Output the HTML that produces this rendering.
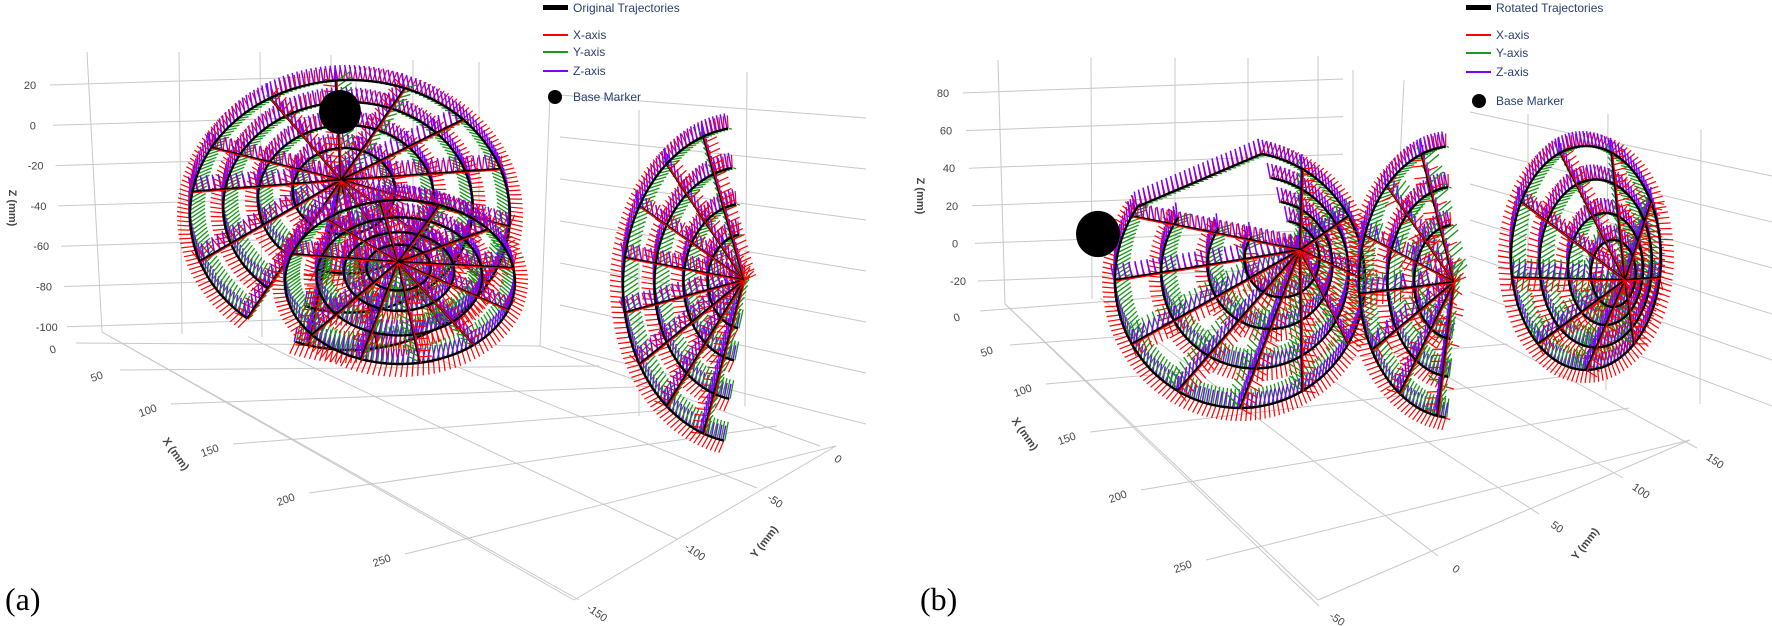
<!DOCTYPE html>
<html><head><meta charset="utf-8">
<style>
html,body{margin:0;padding:0;background:#fff;}
svg{display:block;font-family:"Liberation Sans",sans-serif;}
.tk{font-size:11px;fill:#444;}
.lg{font-size:12px;fill:#2a3f6f;}
</style></head>
<body>
<svg id="chart" width="1772" height="626" viewBox="0 0 1772 626" xmlns="http://www.w3.org/2000/svg">
  <g id="grid"></g>
  <g id="paths"></g>
  <g id="labels"></g>

  <g>
    <rect x="543" y="5" width="25" height="5" fill="#000"/>
    <text class="lg" x="573" y="12">Original Trajectories</text>
    <line x1="543" y1="35" x2="568" y2="35" stroke="#f00" stroke-width="2"/>
    <text class="lg" x="573" y="39">X-axis</text>
    <line x1="543" y1="52" x2="568" y2="52" stroke="#1a9a1a" stroke-width="2"/>
    <text class="lg" x="573" y="56">Y-axis</text>
    <line x1="543" y1="71" x2="568" y2="71" stroke="#7f00ff" stroke-width="2"/>
    <text class="lg" x="573" y="75">Z-axis</text>
    <ellipse cx="555" cy="97" rx="7" ry="7" fill="#000"/>
    <text class="lg" x="573" y="101">Base Marker</text>
  </g>
  <g>
    <rect x="1466" y="5" width="25" height="5" fill="#000"/>
    <text class="lg" x="1496" y="12">Rotated Trajectories</text>
    <line x1="1466" y1="35" x2="1491" y2="35" stroke="#f00" stroke-width="2"/>
    <text class="lg" x="1496" y="39">X-axis</text>
    <line x1="1466" y1="53" x2="1491" y2="53" stroke="#1a9a1a" stroke-width="2"/>
    <text class="lg" x="1496" y="57">Y-axis</text>
    <line x1="1466" y1="72" x2="1491" y2="72" stroke="#7f00ff" stroke-width="2"/>
    <text class="lg" x="1496" y="76">Z-axis</text>
    <ellipse cx="1479" cy="101" rx="7" ry="7" fill="#000"/>
    <text class="lg" x="1496" y="105">Base Marker</text>
  </g>

  <text x="5" y="610" font-family="Liberation Serif, serif" font-size="32" fill="#000">(a)</text>
  <text x="920" y="610" font-family="Liberation Serif, serif" font-size="32" fill="#000">(b)</text>
</svg>
<script>
var SVGNS='http://www.w3.org/2000/svg';
// ---------- data ----------
var zTicksA=['20','0','-20','-40','-60','-80','-100'];
var xTicksA=['0','50','100','150','200','250'];
var yTicksA=['0','-50','-100','-150'];
var zTicksB=['80','60','40','20','0','-20'];
var xTicksB=['0','50','100','150','200','250'];
var yTicksB=['150','100','50','0','-50'];
var fanA1Spokes=[-150,-120,-95,-70,-45,-20,5,30,55,80,105,130,160,190];
var fanA1Rings=[1.0,0.78,0.55,0.32];
var fanA2Spokes=[-160,-130,-100,-70,-40,-10,20,50,80,110,140];
var fanA2Rings=[1.0,0.72,0.48,0.28];
var fanA3Spokes=[110,130,150,170,190,210,230,250];
var fanA3Rings=[1.0,0.74,0.5,0.3];
var fanB1Spokes=[-60,-30,0,30,60,90,120,150,180,210];
var fanB1Rings=[1.0,0.75,0.5,0.3];
var fanB2Spokes=[100,125,150,175,200,225,250];
var fanB2Rings=[1.0,0.7,0.42];
var fanB3Spokes=[-150,-110,-70,-30,10,50,90,130,170,210];
var fanB3Rings=[1.0,0.75,0.5,0.3];

// ---------- helpers ----------
var gGrid=document.getElementById('grid');
var gPaths=document.getElementById('paths');
var gLab=document.getElementById('labels');
function mkLine(p,x1,y1,x2,y2,c,w){var l=document.createElementNS(SVGNS,'line');l.setAttribute('x1',(+x1).toFixed(1));l.setAttribute('y1',(+y1).toFixed(1));l.setAttribute('x2',(+x2).toFixed(1));l.setAttribute('y2',(+y2).toFixed(1));l.setAttribute('stroke',c);l.setAttribute('stroke-width',w);p.appendChild(l);return l;}
function mkText(s,x,y,rot,cls,size,weight){var t=document.createElementNS(SVGNS,'text');t.textContent=s;t.setAttribute('x',x);t.setAttribute('y',y);t.setAttribute('class',cls||'tk');t.setAttribute('text-anchor','middle');if(size)t.setAttribute('font-size',size);if(weight)t.setAttribute('font-weight',weight);if(rot)t.setAttribute('transform','rotate('+rot+' '+x+' '+y+')');gLab.appendChild(t);return t;}
var GC='#c8c8c8';
function mix(a,b,t){return [a[0]+(b[0]-a[0])*t,a[1]+(b[1]-a[1])*t];}

function drawFrame(cfg){
  var i,s,y,l,r,t,p,e;
  for(i=0;i<cfg.zTicks.length;i++){
    s=cfg.zTicks[i];y=cfg.zTop+i*cfg.zStep;
    l=mkLine(gGrid,cfg.zx0+i*cfg.zDx,y,cfg.zx1,y-cfg.zRise,GC,1);
    
    
    r=mkLine(gGrid,cfg.rx0,cfg.ry0+i*cfg.ryStep0,cfg.rx1,cfg.ry1+i*cfg.ryStep1,GC,1);
    
    
    t=mkText(s,cfg.zLabX+i*cfg.zDx,y+4);
    
    
  }
  for(i=0;i<cfg.verts.length;i++){
    var v=cfg.verts[i];
    l=mkLine(gGrid,v[0],v[1],v[2],v[3],GC,1);
    
    
  }
  var nX=cfg.xTicks.length, nY=cfg.yTicks.length;
  for(i=0;i<nX;i++){
    p=cfg.xLab[i];e=mix(cfg.rightA,cfg.rightB,i/(nX-1));
    l=mkLine(gGrid,p[0]+22,p[1]-6,e[0],e[1],GC,1);
    
    
    t=mkText(cfg.xTicks[i],p[0],p[1]+4,-20);
    
    
  }
  for(i=0;i<nY;i++){
    p=cfg.yLab[i];e=mix(cfg.backA,cfg.backB,i/(nY-1));
    l=mkLine(gGrid,p[0]-16,p[1]-12,e[0],e[1],GC,1);
    
    
    t=mkText(cfg.yTicks[i],p[0],p[1]+4,35);
    
    
  }
  var ea=mkLine(gGrid,cfg.backB[0],cfg.backB[1],cfg.xEnd[0],cfg.xEnd[1],GC,1);
  
  
  var eb=mkLine(gGrid,cfg.xEnd[0],cfg.xEnd[1],cfg.rightB[0],cfg.rightB[1],GC,1);
  
  
  var zt=mkText('Z (mm)',cfg.zTitle[0],cfg.zTitle[1],90,'tk',12,'bold');
  
  
  var xt=mkText('X (mm)',cfg.xTitle[0],cfg.xTitle[1],55,'tk',12,'bold');
  
  
  var yt=mkText('Y (mm)',cfg.yTitle[0],cfg.yTitle[1],-52,'tk',12,'bold');
  
  
}
try{
drawFrame({zTicks:zTicksA,zTop:85,zStep:40.3,zx0:50,zDx:2.8,zx1:347,zRise:9,zLabX:30,
  rx0:560,ry0:95,ryStep0:42,rx1:866,ry1:118,ryStep1:51,
  verts:[[87,52,102,332],[179,52,182,334],[260,52,262,337],[331,55,331,339],[356,70,357,340],[413,60,413,342],[479,62,479,344],[550,95,540,346],[639,110,639,416],[747,72,745,406]],
  xTicks:xTicksA,xLab:[[54,349],[98,376],[149,410],[211,450],[287,499],[383,560]],
  rightA:[540,346],rightB:[836,446],
  yTicks:yTicksA,yLab:[[836,458],[773,500],[693,551],[595,612]],
  backA:[540,346],backB:[102,332],
  xEnd:[574,600],
  zTitle:[9,208],xTitle:[173,456],yTitle:[767,544]});
}catch(err){}
try{
drawFrame({zTicks:zTicksB,zTop:93,zStep:37.6,zx0:963,zDx:3,zx1:1343,zRise:14,zLabX:943,
  rx0:1470,ry0:112,ryStep0:36,rx1:1772,ry1:176,ryStep1:46,
  verts:[[998,60,1005,304],[1091,58,1092,299],[1175,58,1175,295],[1248,58,1248,291],[1318,56,1318,287],[1353,70,1353,285],[1404,80,1394,281],[1528,114,1528,330],[1608,114,1606,390],[1701,130,1700,404]],
  xTicks:xTicksB,xLab:[[958,317],[988,351],[1024,390],[1068,438],[1119,496],[1184,566]],
  rightA:[1386,280],rightB:[1690,440],
  yTicks:yTicksB,yLab:[[1713,460],[1639,490],[1555,526],[1454,568],[1335,618]],
  backA:[1386,280],backB:[1005,304],
  xEnd:[1318,600],
  zTitle:[917,196],xTitle:[1022,436],yTitle:[1588,546]});
}catch(err){}

// ---------- fans ----------
var RED='#ff0000',GRN='#149614',PUR='#7a00ff';
function fan(cx,cy,rx,ry,hx,hy,a0,a1,spokes,rings,name,chord){
  var g=document.createElementNS(SVGNS,'g');
  
  
  gPaths.appendChild(g);
  var hatch=document.createElementNS(SVGNS,'g');g.appendChild(hatch);
  var blk=document.createElementNS(SVGNS,'g');g.appendChild(blk);
  function ticksAlong(pts){
    for(var i=0;i<pts.length;i++){
      var p=pts[i],q=pts[Math.min(i+1,pts.length-1)],o=pts[Math.max(i-1,0)];
      var tx=q[0]-o[0],ty=q[1]-o[1];var L=Math.hypot(tx,ty)||1;tx/=L;ty/=L;
      var nx=-ty,ny=tx;
      if((p[0]-cx)*nx+(p[1]-cy)*ny<0){nx=-nx;ny=-ny;}
      mkLine(hatch,p[0],p[1],p[0]+nx*13+tx*2,p[1]+ny*13+ty*2,RED,1.2);
      mkLine(hatch,p[0]+1,p[1],p[0]-nx*10-ty*4+1,p[1]-ny*10-9,GRN,1.3);
      mkLine(hatch,p[0]-1,p[1],p[0]+ny*3-1,p[1]-15,PUR,1.5);
    }
  }
  rings.forEach(function(r,ri){
    var pts=[];var per=Math.PI*(rx+ry)*r*Math.abs(a1-a0)/360;var n=Math.max(8,Math.round(per/4.5));
    var bx=hx+(cx-hx)*r, by=hy+(cy-hy)*r;
    for(var i=0;i<=n;i++){var a=(a0+(a1-a0)*i/n)*Math.PI/180;
      pts.push([bx+rx*r*Math.cos(a),by+ry*r*Math.sin(a)]);}
    if(chord&&ri===0){var s=pts[pts.length-1],f=pts[0];var m=Math.round(Math.hypot(f[0]-s[0],f[1]-s[1])/5);
      for(var j=1;j<=m;j++)pts.push([s[0]+(f[0]-s[0])*j/m,s[1]+(f[1]-s[1])*j/m]);}
    ticksAlong(pts);
    var pl=document.createElementNS(SVGNS,'polyline');
    pl.setAttribute('points',pts.map(function(p){return p[0].toFixed(1)+','+p[1].toFixed(1);}).join(' '));
    pl.setAttribute('fill','none');pl.setAttribute('stroke','#000');pl.setAttribute('stroke-width','2.4');
    
    
    blk.appendChild(pl);
  });
  spokes.forEach(function(d){
    var a=d*Math.PI/180;var ex=cx+rx*Math.cos(a),ey=cy+ry*Math.sin(a);
    var L=Math.hypot(ex-hx,ey-hy);var n=Math.max(3,Math.round(L/6));var pts=[];
    for(var i=0;i<=n;i++)pts.push([hx+(ex-hx)*i/n,hy+(ey-hy)*i/n]);
    ticksAlong(pts);
    var l=mkLine(blk,hx,hy,ex,ey,'#000',2.2);
    
    
    var r=mkLine(blk,hx+1,hy+1,ex+1,ey+1,RED,1.2);
    
    
  });
}
try{fan(350,215,160,135,341,180,-230,110,fanA1Spokes,fanA1Rings,'trajectory-fan-a-main',false);}catch(err){}
try{fan(400,282,115,82,398,262,-180,180,fanA2Spokes,fanA2Rings,'trajectory-fan-a-lower',false);}catch(err){}
try{fan(745,285,122,158,744,280,100,262,fanA3Spokes,fanA3Rings,'trajectory-fan-a-side',false);}catch(err){}
try{fan(1240,280,125,128,1300,250,-80,215,fanB1Spokes,fanB1Rings,'trajectory-fan-b-bowl',true);}catch(err){}
try{fan(1454,282,95,136,1454,282,95,265,fanB2Spokes,fanB2Rings,'trajectory-fan-b-crescent',false);}catch(err){}
try{fan(1586,258,75,112,1625,280,-180,180,fanB3Spokes,fanB3Rings,'trajectory-fan-b-disc',false);}catch(err){}

function marker(x,y,r){var c=document.createElementNS(SVGNS,'ellipse');c.setAttribute('cx',x);c.setAttribute('cy',y);c.setAttribute('rx',r);c.setAttribute('ry',r*1.05);c.setAttribute('fill','#000');gPaths.appendChild(c);return c;}
var m1=marker(340,112,21);


var m2=marker(1098,234,22);


</script>
</body></html>
